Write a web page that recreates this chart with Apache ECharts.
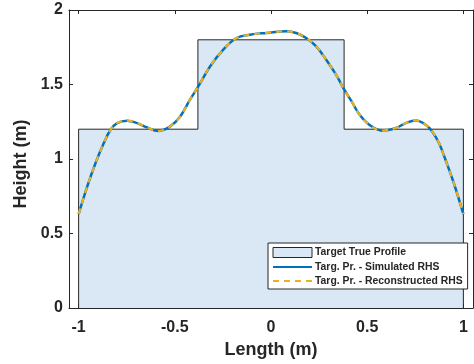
<!DOCTYPE html>
<html>
<head>
<meta charset="utf-8">
<script src="https://cdn.jsdelivr.net/npm/echarts@6/dist/echarts.min.js"></script>
<style>html,body{margin:0;padding:0;background:#fff;}#c{width:474px;height:364px;}</style>
</head>
<body>
<div id="c"></div>
<script>
// Target true profile (step outline)
const profileX = [-1, -1, -0.38, -0.38, 0.38, 0.38, 1, 1];
const profileY = [0, 1.2, 1.2, 1.8, 1.8, 1.2, 1.2, 0];

// Reconstructed / simulated curve
const curveX = [-1, -0.955, -0.912, -0.869, -0.834, -0.80, -0.748, -0.696, -0.645, -0.585, -0.524, -0.472, -0.421, -0.378, -0.317, -0.248, -0.179, -0.110, -0.024, 0.080, 0.131, 0.183, 0.235, 0.287, 0.338, 0.381, 0.420, 0.459, 0.511, 0.579, 0.649, 0.700, 0.752, 0.804, 0.838, 0.873, 0.907, 0.950, 1.0];
const simulatedY = [0.63, 0.816, 0.973, 1.107, 1.196, 1.241, 1.257, 1.241, 1.212, 1.188, 1.219, 1.286, 1.398, 1.487, 1.621, 1.734, 1.812, 1.834, 1.846, 1.857, 1.846, 1.812, 1.756, 1.666, 1.566, 1.465, 1.385, 1.300, 1.230, 1.190, 1.208, 1.241, 1.259, 1.230, 1.185, 1.107, 0.995, 0.839, 0.63];
const reconstructedY = simulatedY.slice();

const xTicks = [-1, -0.5, 0, 0.5, 1];
const yTicks = [0, 0.5, 1, 1.5, 2];
const seriesNames = ['Target True Profile', 'Targ. Pr. - Simulated RHS', 'Targ. Pr. - Reconstructed RHS'];

const zip = (xs, ys) => xs.map((x, i) => [x, ys[i]]);
const axisCol = '#262626';
const font = 'Liberation Sans, Arial, Helvetica, sans-serif';

const chart = echarts.init(document.getElementById('c'), null, {renderer: 'canvas'});
const xBase = {
  type: 'value', min: -1.05, max: 1.05, splitNumber: 4,
  axisLine: {show: true, onZero: false, lineStyle: {color: axisCol, width: 1}},
  axisTick: {show: true, inside: true, length: 4, lineStyle: {color: axisCol}},
  splitLine: {show: false}
};
const yBase = {
  type: 'value', min: 0, max: 2, interval: 0.5,
  axisLine: {show: true, onZero: false, lineStyle: {color: axisCol, width: 1}},
  axisTick: {show: true, inside: true, length: 4, lineStyle: {color: axisCol}},
  splitLine: {show: false}
};
const fmt = v => {
  for (const t of xTicks) if (Math.abs(v - t) < 1e-6) return String(t);
  return '';
};
chart.setOption({
  animation: false,
  backgroundColor: '#fff',
  grid: {left: 69, right: 1, top: 10, bottom: 56, outerBoundsMode: 'none'},
  xAxis: [
    Object.assign({}, xBase, {
      position: 'bottom',
      name: 'Length (m)', nameLocation: 'middle', nameGap: 33,
      nameTextStyle: {fontFamily: font, fontWeight: 'bold', fontSize: 18, color: axisCol},
      axisLabel: {show: true, margin: 12, fontFamily: font, fontWeight: 'bold', fontSize: 16, color: axisCol,
        showMinLabel: false, showMaxLabel: false, formatter: fmt}
    }),
    Object.assign({}, xBase, {position: 'top', axisLabel: {show: false}})
  ],
  yAxis: [
    Object.assign({}, yBase, {
      position: 'left',
      name: 'Height (m)', nameLocation: 'middle', nameGap: 31,
      nameTextStyle: {fontFamily: font, fontWeight: 'bold', fontSize: 18, color: axisCol, padding: [0, 10, 0, 0]},
      axisLabel: {show: true, margin: 6, fontFamily: font, fontWeight: 'bold', fontSize: 16, color: axisCol,
        formatter: v => (yTicks.includes(v) ? String(v) : '')}
    }),
    Object.assign({}, yBase, {position: 'right', axisLabel: {show: false}})
  ],
  legend: {
    orient: 'vertical', left: 268, top: 243,
    padding: [4, 5, 3, 4], itemGap: 4, itemWidth: 39, itemHeight: 10,
    backgroundColor: '#fff', borderColor: axisCol, borderWidth: 1, borderRadius: 0,
    textStyle: {fontFamily: font, fontWeight: 'bold', fontSize: 10.4, color: axisCol, padding: [0, 0, 0, -2]},
    data: [
      {name: seriesNames[0], icon: 'rect', itemStyle: {color: '#dae8f6', borderColor: axisCol, borderWidth: 1}},
      {name: seriesNames[1], itemStyle: {opacity: 0, color: 'rgba(0,0,0,0)', borderWidth: 0}},
      {name: seriesNames[2], itemStyle: {opacity: 0, color: 'rgba(0,0,0,0)', borderWidth: 0}}
    ]
  },
  series: [
    {
      name: seriesNames[0], type: 'line', data: zip(profileX, profileY),
      symbol: 'none', showSymbol: false, z: 1,
      lineStyle: {color: axisCol, width: 1},
      itemStyle: {color: '#dae8f6'},
      areaStyle: {color: '#dae8f6', opacity: 1}
    },
    {
      name: seriesNames[1], type: 'line', data: zip(curveX, simulatedY),
      symbol: 'none', showSymbol: false, smooth: 0.4, z: 3,
      lineStyle: {color: '#0072BD', width: 2.5},
      itemStyle: {color: '#0072BD'}
    },
    {
      name: seriesNames[2], type: 'line', data: zip(curveX, reconstructedY),
      symbol: 'none', showSymbol: false, smooth: 0.4, z: 4,
      lineStyle: {color: '#EDB120', width: 2.2, type: [6, 5]},
      itemStyle: {color: '#EDB120'}
    }
  ]
});
</script>
</body>
</html>
